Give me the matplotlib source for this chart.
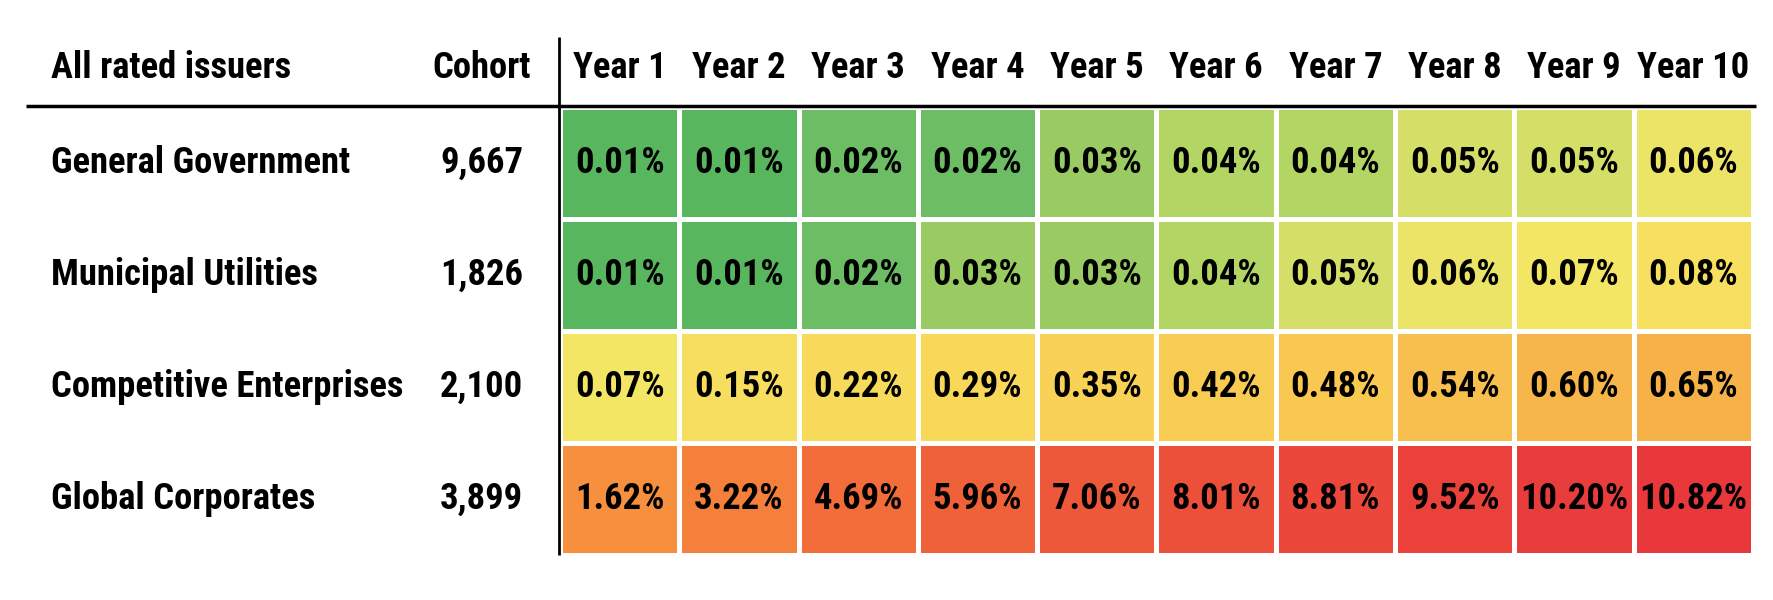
import numpy as np
import matplotlib
matplotlib.use("Agg")
import matplotlib.pyplot as plt
from matplotlib import font_manager
from matplotlib.colors import LinearSegmentedColormap, LogNorm

# pick a narrow bold face if one is installed
installed = {f.name for f in font_manager.fontManager.ttflist}
narrow = [n for n in ['Roboto Condensed', 'Noto Sans Condensed',
                      'Open Sans Condensed', 'Liberation Sans Narrow',
                      'DejaVu Sans'] if n in installed]
plt.rcParams['font.family'] = narrow + ['DejaVu Sans']
plt.rcParams['font.stretch'] = 'condensed'

# ---------------- data ----------------
issuers = ["General Government", "Municipal Utilities",
           "Competitive Enterprises", "Global Corporates"]
cohort = [9667, 1826, 2100, 3899]
years = ["Year 1", "Year 2", "Year 3", "Year 4", "Year 5",
         "Year 6", "Year 7", "Year 8", "Year 9", "Year 10"]

general_gov = [0.01, 0.01, 0.02, 0.02, 0.03, 0.04, 0.04, 0.05, 0.05, 0.06]
municipal = [0.01, 0.01, 0.02, 0.03, 0.03, 0.04, 0.05, 0.06, 0.07, 0.08]
competitive = [0.07, 0.15, 0.22, 0.29, 0.35, 0.42, 0.48, 0.54, 0.60, 0.65]
global_corp = [1.62, 3.22, 4.69, 5.96, 7.06, 8.01, 8.81, 9.52, 10.20, 10.82]

rates = np.array([general_gov, municipal, competitive, global_corp])

# green -> yellow -> orange -> red, on a log scale
cmap = LinearSegmentedColormap.from_list("rates", [
    (0.00, "#58b65f"), (0.10, "#6cbd63"), (0.16, "#9ccc62"),
    (0.20, "#b6d664"), (0.23, "#d8e068"), (0.26, "#f0e567"),
    (0.28, "#f4e665"), (0.30, "#f7df60"), (0.39, "#f7de5e"),
    (0.49, "#f9d658"), (0.56, "#f8c650"), (0.60, "#f6b048"),
    (0.73, "#f6903e"), (0.83, "#f4803b"), (0.88, "#f26e39"),
    (0.92, "#ef6139"), (0.96, "#ec4e3a"), (1.00, "#e8383c")])
norm = LogNorm(vmin=0.01, vmax=10.82)

# ---------------- layout (pixel coords) ----------------
W, H = 1774, 600
fig = plt.figure(figsize=(W / 100, H / 100), dpi=100)
ax = fig.add_axes([0, 0, 1, 1])
ax.set_xlim(0, W)
ax.set_ylim(H, 0)
ax.axis('off')

x_edges = np.linspace(560, 1753, len(years) + 1)
y_edges = np.linspace(107, 555, len(issuers) + 1)
x_mid = (x_edges[:-1] + x_edges[1:]) / 2
y_mid = (y_edges[:-1] + y_edges[1:]) / 2

ax.pcolormesh(x_edges, y_edges, rates, cmap=cmap, norm=norm,
              edgecolors='white', linewidth=2.5)

# shrink the font until the widest cell label fits its cell
renderer = fig.canvas.get_renderer()
probe = ax.text(0, 0, "10.82%", fontsize=27, fontweight='bold')
w = probe.get_window_extent(renderer).width
probe.remove()
fs = min(27, 27 * 108 / w)

header_y = 68

# header row
ax.text(51, header_y, "All rated issuers", fontsize=fs, fontweight='bold',
        ha='left', va='center')
ax.text(531, header_y, "Cohort", fontsize=fs, fontweight='bold',
        ha='right', va='center')
for x, lab in zip(x_mid, years):
    ax.text(x, header_y, lab, fontsize=fs, fontweight='bold',
            ha='center', va='center')

# rows
for i, y in enumerate(y_mid):
    ax.text(51, y, issuers[i], fontsize=fs, fontweight='bold',
            ha='left', va='center')
    ax.text(523, y, f"{cohort[i]:,}", fontsize=fs, fontweight='bold',
            ha='right', va='center')
    for j, x in enumerate(x_mid):
        ax.text(x, y, f"{rates[i, j]:.2f}%", fontsize=fs, fontweight='bold',
                ha='center', va='center')

# rule lines
ax.plot([26, 1756], [106, 106], color='black', linewidth=2.5,
        solid_capstyle='butt')
ax.plot([559, 559], [37, 555], color='black', linewidth=2,
        solid_capstyle='butt')

fig.savefig("out.png", dpi=100, facecolor='white')
